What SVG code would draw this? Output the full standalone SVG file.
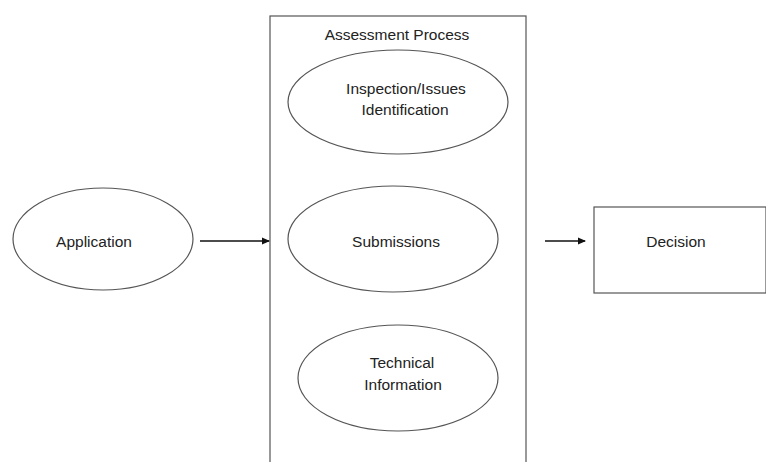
<svg xmlns="http://www.w3.org/2000/svg" width="766" height="462" viewBox="0 0 766 462">
<style>
.shape{fill:#fff;stroke:#555;stroke-width:1.2}
.lbl{font-family:"Liberation Sans",Arial,sans-serif;font-size:15.5px;fill:#222;text-anchor:middle}
.conn{stroke:#111;stroke-width:1.5;fill:none}
</style>
<defs>
<marker id="ah" markerWidth="8" markerHeight="8" refX="7" refY="4" orient="auto" markerUnits="userSpaceOnUse">
<path d="M0,0.5 L8,4 L0,7.5 Z" fill="#111"/>
</marker>
</defs>
<rect width="766" height="462" fill="#fff"/>
<g id="assessment">
<rect class="shape" x="270" y="16" width="256" height="460"/>
<text class="lbl" x="397" y="40">Assessment Process</text>
</g>
<g id="inspection">
<ellipse class="shape" cx="398" cy="102" rx="110" ry="52"/>
<text class="lbl" x="406" y="94">Inspection/Issues</text>
<text class="lbl" x="405" y="115">Identification</text>
</g>
<g id="submissions">
<ellipse class="shape" cx="393" cy="239" rx="105" ry="53"/>
<text class="lbl" x="396" y="247">Submissions</text>
</g>
<g id="technical">
<ellipse class="shape" cx="398" cy="378" rx="100" ry="53"/>
<text class="lbl" x="402" y="368">Technical</text>
<text class="lbl" x="403" y="390">Information</text>
</g>
<g id="application">
<ellipse class="shape" cx="103" cy="239" rx="90" ry="51"/>
<text class="lbl" x="94" y="247">Application</text>
</g>
<g id="decision">
<rect class="shape" x="594" y="207" width="172" height="86"/>
<text class="lbl" x="676" y="247">Decision</text>
</g>
<g id="connectors">
<line class="conn" x1="200" y1="241" x2="269" y2="241" marker-end="url(#ah)"/>
<line class="conn" x1="545" y1="241" x2="585" y2="241" marker-end="url(#ah)"/>
</g>
</svg>
